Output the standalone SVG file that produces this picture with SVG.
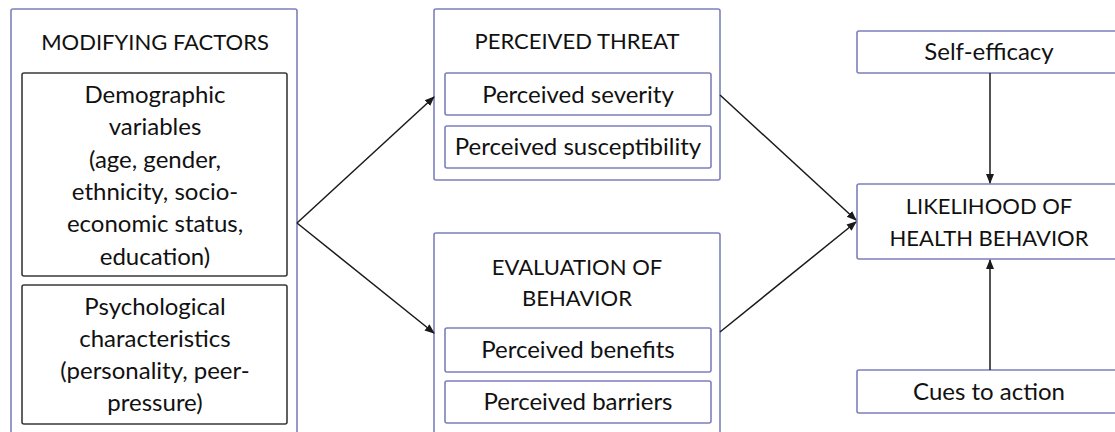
<svg xmlns="http://www.w3.org/2000/svg" width="1115" height="432" viewBox="0 0 1115 432">
  <defs>
    <style>
      .outer { fill: #ffffff; stroke: #7c80bd; stroke-width: 1.6; }
      .inner { fill: #ffffff; stroke: #3a3a3a; stroke-width: 1.6; }
      .sub { fill: #ffffff; stroke: #7c80bd; stroke-width: 1.6; }
      text { font-family: Lato, "Liberation Sans", Arial, sans-serif; font-size: 24px; fill: #111111; text-anchor: middle; dominant-baseline: central; }
      text.head { font-size: 22px; }
      .conn { stroke: #1a1a1a; stroke-width: 1.5; fill: none; marker-end: url(#arrow); }
    </style>
    <marker id="arrow" markerWidth="10" markerHeight="10" refX="9" refY="5" orient="auto" markerUnits="userSpaceOnUse">
      <path d="M0,1 L10,5 L0,9 Z" fill="#1a1a1a"/>
    </marker>
  </defs>
  <rect x="0" y="0" width="1115" height="432" fill="#ffffff"/>

  <g id="modifying-factors">
    <rect class="outer" x="11" y="9" width="286" height="430" rx="2"/>
    <text class="head" x="155" y="41">MODIFYING FACTORS</text>
    <g id="demographic">
      <rect class="inner" x="22" y="73" width="265" height="203" rx="2"/>
      <text x="155" y="93">Demographic</text>
      <text x="155" y="125">variables</text>
      <text x="155" y="158">(age, gender,</text>
      <text x="155" y="190">ethnicity, socio-</text>
      <text x="155" y="222">economic status,</text>
      <text x="155" y="255">education)</text>
    </g>
    <g id="psychological">
      <rect class="inner" x="22" y="285" width="265" height="139" rx="2"/>
      <text x="155" y="305">Psychological</text>
      <text x="155" y="337">characteristics</text>
      <text x="155" y="369">(personality, peer-</text>
      <text x="155" y="401">pressure)</text>
    </g>
  </g>

  <g id="perceived-threat">
    <rect class="outer" x="434" y="9" width="286" height="171" rx="2"/>
    <text class="head" x="577" y="40">PERCEIVED THREAT</text>
    <g id="perceived-severity">
      <rect class="sub" x="445" y="73" width="266" height="42" rx="2"/>
      <text x="578" y="93">Perceived severity</text>
    </g>
    <g id="perceived-susceptibility">
      <rect class="sub" x="445" y="126" width="266" height="42" rx="2"/>
      <text x="578" y="145">Perceived susceptibility</text>
    </g>
  </g>

  <g id="evaluation-of-behavior">
    <rect class="outer" x="434" y="233" width="286" height="210" rx="2"/>
    <text class="head" x="577" y="266">EVALUATION OF</text>
    <text class="head" x="577" y="297">BEHAVIOR</text>
    <g id="perceived-benefits">
      <rect class="sub" x="445" y="328" width="266" height="44" rx="2"/>
      <text x="578" y="348">Perceived benefits</text>
    </g>
    <g id="perceived-barriers">
      <rect class="sub" x="445" y="381" width="266" height="42" rx="2"/>
      <text x="578" y="400">Perceived barriers</text>
    </g>
  </g>

  <g id="self-efficacy">
    <rect class="outer" x="857" y="31" width="270" height="42" rx="2"/>
    <text x="989" y="50">Self-efficacy</text>
  </g>

  <g id="likelihood">
    <rect class="outer" x="857" y="184" width="270" height="75" rx="2"/>
    <text class="head" x="989" y="205">LIKELIHOOD OF</text>
    <text class="head" x="989" y="237">HEALTH BEHAVIOR</text>
  </g>

  <g id="cues-to-action">
    <rect class="outer" x="857" y="370" width="270" height="43" rx="2"/>
    <text x="989" y="390">Cues to action</text>
  </g>

  <g id="connectors">
    <line class="conn" x1="297" y1="223" x2="434" y2="97"/>
    <line class="conn" x1="297" y1="223" x2="434" y2="333"/>
    <line class="conn" x1="720" y1="95" x2="856" y2="220"/>
    <line class="conn" x1="720" y1="332" x2="856" y2="222"/>
    <line class="conn" x1="990" y1="73" x2="990" y2="183"/>
    <line class="conn" x1="990" y1="370" x2="990" y2="260"/>
  </g>
</svg>
